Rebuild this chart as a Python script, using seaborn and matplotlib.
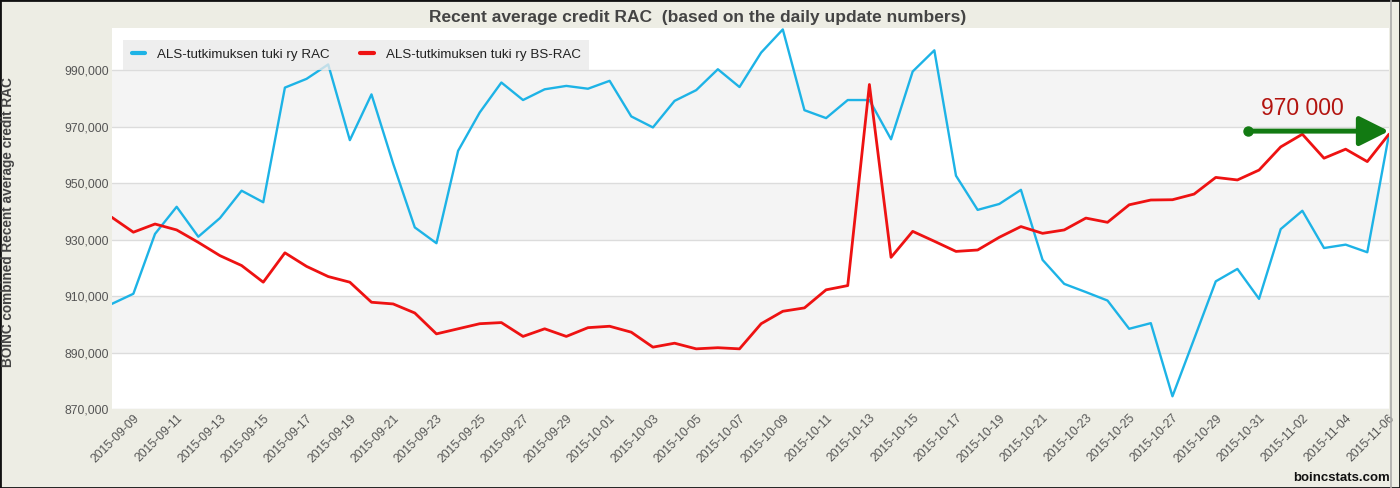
import pandas as pd
import seaborn as sns
import matplotlib.pyplot as plt
import matplotlib.dates as mdates
from matplotlib.lines import Line2D
from matplotlib.patches import Rectangle
from matplotlib.ticker import FuncFormatter

# daily values
dates = pd.date_range('2015-09-08', '2015-11-06', freq='D')

rac = [907300, 910900, 932100, 941700, 931100, 937700, 947400, 943300, 983900, 987000,
       992100, 965300, 981500, 957000, 934400, 928800, 961500, 975100, 985700, 979500,
       983300, 984500, 983500, 986300, 973700, 969800, 979200, 983000, 990400, 984100,
       996300, 1004500, 975900, 973100, 979500, 979500, 965600, 989600, 997100, 952700,
       940600, 942700, 947700, 922900, 914400, 911500, 908500, 898500, 900500, 874600,
       894900, 915300, 919700, 909100, 933800, 940300, 927100, 928300, 925600, 967200]

bs_rac = [938000, 932700, 935600, 933500, 929100, 924400, 920900, 915000, 925400, 920600,
          917000, 915000, 907900, 907300, 904100, 896700, 898500, 900300, 900700, 895800,
          898500, 895800, 898900, 899400, 897300, 892000, 893400, 891400, 891800, 891400,
          900300, 904700, 905900, 912300, 913800, 985000, 923800, 933000, 929500, 925900,
          926400, 930900, 934700, 932300, 933500, 937700, 936200, 942400, 944100, 944200,
          946200, 952100, 951200, 954700, 962900, 967400, 958900, 962100, 957700, 967400]

series_names = ['ALS-tutkimuksen tuki ry RAC', 'ALS-tutkimuksen tuki ry BS-RAC']
y_ticks = [870000, 890000, 910000, 930000, 950000, 970000, 990000]
bands = [(890000, 910000), (930000, 950000), (970000, 990000)]

arrow_start = ('2015-10-30 12:00', 968500)
arrow_end = ('2015-11-06', 968500)
note_pos = ('2015-11-02', 976600)

blue = '#1DB3E6'
red = '#EE1212'
green = '#127A12'
bg = '#EDEDE4'

df = pd.DataFrame({'date': dates, series_names[0]: rac, series_names[1]: bs_rac})
df = df.melt(id_vars='date', var_name='serie', value_name='rac')

sns.set_style('white')
plt.rcParams['font.family'] = ['Liberation Sans', 'DejaVu Sans']

fig = plt.figure(figsize=(14, 4.88), dpi=100, facecolor=bg)
ax = fig.add_axes([0.0798, 0.1613, 0.9123, 0.7813])
ax.set_facecolor('white')

for lo, hi in bands:
    ax.axhspan(lo, hi, color='#F4F4F4', zorder=0, lw=0)

n0 = len(ax.lines)
sns.lineplot(data=df, x='date', y='rac', hue='serie', hue_order=series_names,
             palette=[blue, red], ax=ax, legend=False, linewidth=1.7)
ax.lines[n0 + 1].set_linewidth(2.0)

ax.set_ylim(870000, 1005000)
ax.set_yticks(y_ticks)
ax.yaxis.set_major_formatter(FuncFormatter(lambda v, p: f'{v:,.0f}'))
ax.yaxis.grid(True, color='#DCDCDC', lw=1)
ax.set_axisbelow(True)

tick_dates = dates[1::2]
ax.set_xlim(dates[0], dates[-1])
ax.set_xticks(tick_dates)
ax.set_xticklabels([d.strftime('%Y-%m-%d') for d in tick_dates], rotation=45,
                   ha='right', rotation_mode='anchor')
ax.tick_params(length=0, pad=2, labelsize=8.8, labelcolor='#555555')
ax.set_xlabel('')
ax.set_ylabel('')
for s in ax.spines.values():
    s.set_visible(False)

handles = [Line2D([], [], color=blue, lw=3), Line2D([], [], color=red, lw=3)]
leg = ax.legend(handles, series_names, loc='upper left', bbox_to_anchor=(0.0088, 0.9685),
                ncol=2, frameon=True, facecolor='#EAEAEA', edgecolor='none', framealpha=0.8,
                fancybox=False, fontsize=9.6, handlelength=1.0, handletextpad=0.9,
                columnspacing=2.3, borderpad=0.65, borderaxespad=0)
for t in leg.get_texts():
    t.set_color('#222222')

x0 = mdates.date2num(pd.Timestamp(arrow_start[0]))
x1 = mdates.date2num(pd.Timestamp(arrow_end[0]))
ax.annotate('', xy=(x1, arrow_end[1]), xytext=(x0, arrow_start[1]),
            arrowprops=dict(arrowstyle='-|>,head_length=0.6,head_width=0.3', color=green,
                            lw=3.6, mutation_scale=30, shrinkA=0, shrinkB=0), zorder=5)
ax.plot([x0], [arrow_start[1]], 'o', color=green, ms=6.5, zorder=5)
ax.text(mdates.date2num(pd.Timestamp(note_pos[0])), note_pos[1], '970 000', color='#B3140F',
        fontsize=16.5, ha='center', va='center', zorder=5)

fig.text(0.498, 0.965, 'Recent average credit RAC  (based on the daily update numbers)',
         ha='center', va='center', fontweight='bold', fontsize=12.5, color='#444444')
fig.text(0.006, 0.545, 'BOINC combined Recent average credit RAC', rotation=90,
         ha='center', va='center', fontweight='bold', fontsize=9.8, color='#444444')
fig.text(0.9929, 0.008, 'boincstats.com', ha='right', va='bottom', fontweight='bold',
         fontsize=9.5, color='#111111')

fig.add_artist(Line2D([0.9936, 0.9936], [0, 1], color='#AAAAAA', lw=1.2,
                      transform=fig.transFigure))
fig.patches.append(Rectangle((0, 0), 1, 1, transform=fig.transFigure, fill=False,
                             edgecolor='#111111', lw=2))

fig.savefig('out.png', dpi=100, facecolor=fig.get_facecolor())
